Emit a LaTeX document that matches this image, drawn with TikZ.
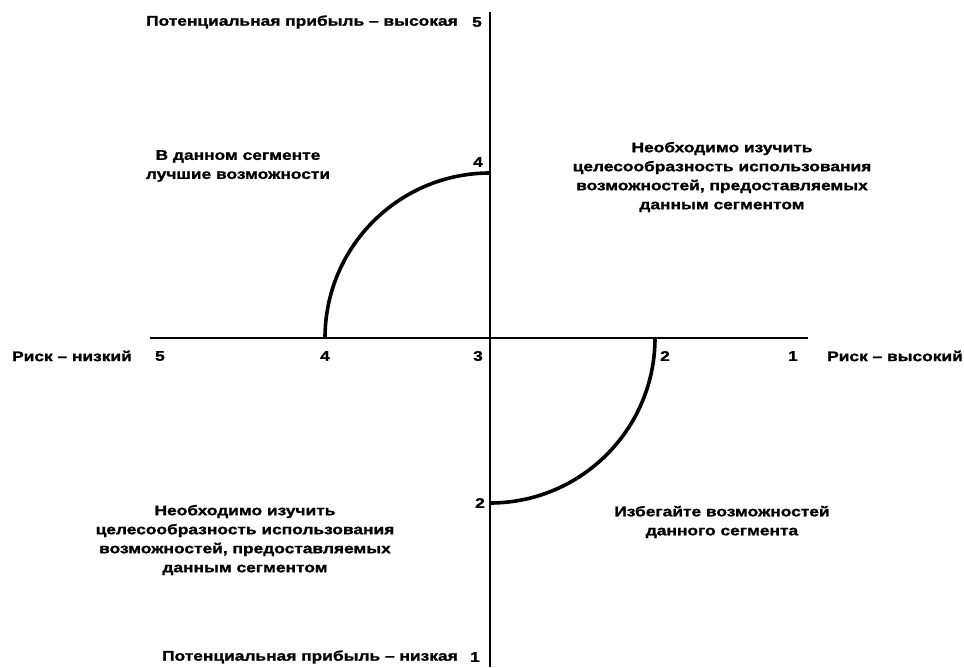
\documentclass[tikz,border=0pt]{standalone}
\usepackage{fontspec}
\setmainfont{Liberation Sans}
\newfontfamily\chartfont[FakeStretch=1.24,FakeBold=1.3]{Liberation Sans}
\usetikzlibrary{positioning,calc}

\begin{document}
\begin{tikzpicture}[
    x=1pt, y=1pt,
    font=\chartfont\bfseries\fontsize{14}{19}\selectfont,
    axis/.style={line width=2.8pt},
    curve/.style={line width=3.6pt},
    ticklbl/.style={inner sep=1pt},
    quadtext/.style={align=center, inner sep=0pt}
]
\useasboundingbox (-490,-329) rectangle (474,338);

% --- axes ---
\coordinate (o)  at (0,0);
\coordinate (xl) at (-340,0);
\coordinate (xr) at (318,0);
\coordinate (yt) at (0,326);
\coordinate (yb) at (0,-329);
\draw[axis] (xl) -- (xr);
\draw[axis] (yt) -- (yb);

% --- arcs ---
\coordinate (r4) at (-165,0);
\coordinate (p4) at (0,165);
\coordinate (p2) at (0,-165);
\coordinate (r2) at (165,0);
\draw[curve] (r4) arc[start angle=180, end angle=90, radius=165];
\draw[curve] (p2) arc[start angle=270, end angle=360, radius=165];

% --- risk scale (horizontal) ---
\node[ticklbl] (h5) at (-330,-18) {5};
\node[ticklbl] (h4) at (-165,-18) {4};
\node[ticklbl] (h3) at (-12,-18) {3};
\node[ticklbl] (h2) at (175,-18) {2};
\node[ticklbl] (h1) at (303,-18) {1};
\node[ticklbl] (risklo) at (-418,-18) {Риск – низкий};
\node[ticklbl] (riskhi) at (405,-18) {Риск – высокий};

% --- profit scale (vertical) ---
\node[ticklbl] (v5) at (-13,316) {5};
\node[ticklbl] (v4) at (-12,176) {4};
\node[ticklbl] (v2) at (-10,-165) {2};
\node[ticklbl] (v1) at (-15,-319) {1};
\node[ticklbl, left=12pt of v5] (profhi) {Потенциальная прибыль – высокая};
\node[ticklbl, left=10pt of v1] (proflo) {Потенциальная прибыль – низкая};

% --- quadrant notes ---
\node[quadtext] (qul) at (-252,172) {В данном сегменте\\лучшие возможности};
\node[quadtext] (qur) at (232,161) {Необходимо изучить\\целесообразность использования\\возможностей, предоставляемых\\данным сегментом};
\node[quadtext] (qll) at (-245,-202) {Необходимо изучить\\целесообразность использования\\возможностей, предоставляемых\\данным сегментом};
\node[quadtext] (qlr) at (232,-184) {Избегайте возможностей\\данного сегмента};

\end{tikzpicture}
\end{document}
